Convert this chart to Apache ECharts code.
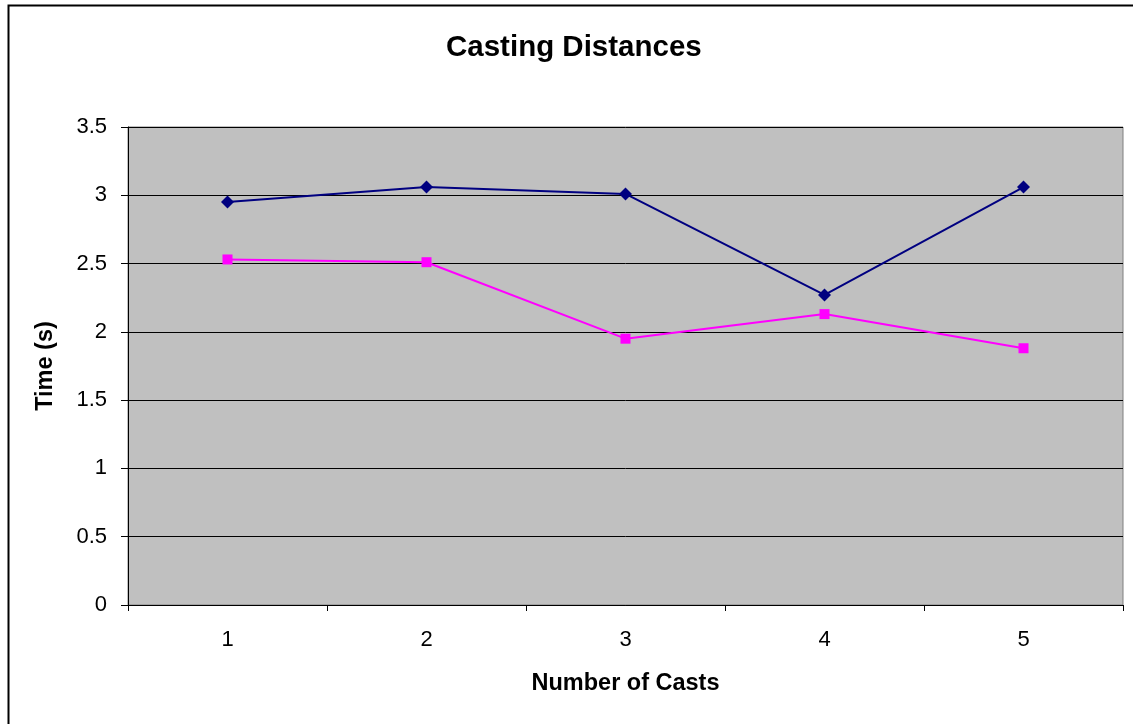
<!DOCTYPE html>
<html>
<head>
<meta charset="utf-8">
<script src="https://cdn.jsdelivr.net/npm/echarts@6/dist/echarts.min.js"></script>
<style>html,body{margin:0;padding:0;background:#fff}#c{width:1133px;height:724px}</style>
</head>
<body>
<div id="c"></div>
<script>
var categories = ['1', '2', '3', '4', '5'];
var seriesA = [2.95, 3.06, 3.01, 2.27, 3.06];
var seriesB = [2.53, 2.51, 1.95, 2.13, 1.88];
var yTicks = [0, 0.5, 1, 1.5, 2, 2.5, 3, 3.5];

var chart = echarts.init(document.getElementById('c'));
var font = 'Arial, "Liberation Sans", sans-serif';
chart.setOption({
  animation: false,
  backgroundColor: '#fff',
  graphic: [{
    type: 'rect', left: 6, top: 3, z: -1,
    shape: { width: 1140, height: 730 },
    style: { fill: 'none', stroke: '#000', lineWidth: 2 }
  }],
  title: {
    text: 'Casting Distances', left: 446, top: 33,
    textStyle: { fontFamily: font, fontSize: 29.5, fontWeight: 'bold', color: '#000' },
    padding: 0
  },
  grid: { left: 128, right: 10, top: 127, bottom: 119, show: true, backgroundColor: '#C0C0C0', borderColor: '#808080', borderWidth: 1 },
  xAxis: {
    type: 'category', data: categories, boundaryGap: true,
    name: 'Number of Casts', nameLocation: 'middle', nameGap: 67,
    nameTextStyle: { fontFamily: font, fontSize: 23.5, fontWeight: 'bold', color: '#000' },
    axisLine: { lineStyle: { color: '#000', width: 1 } },
    axisTick: { show: true, length: 6, lineStyle: { color: '#000' } },
    axisLabel: { fontFamily: font, fontSize: 22, color: '#000', margin: 24 },
    splitLine: { show: false }
  },
  yAxis: {
    type: 'value', min: 0, max: 3.5, interval: 0.5,
    name: 'Time (s)', nameLocation: 'middle', nameGap: 70, nameRotate: 90,
    nameTextStyle: { fontFamily: font, fontSize: 23.5, fontWeight: 'bold', color: '#000' },
    axisLine: { show: true, lineStyle: { color: '#000', width: 1 } },
    axisTick: { show: true, length: 7, inside: false, lineStyle: { color: '#000' } },
    axisLabel: { fontFamily: font, fontSize: 22, color: '#000', margin: 21,
      formatter: function (v) { return yTicks.indexOf(v) >= 0 ? String(v) : ''; } },
    splitLine: { show: true, lineStyle: { color: '#000', width: 1 } }
  },
  series: [{
    type: 'line', data: seriesA, symbol: 'diamond', symbolSize: 13,
    lineStyle: { color: '#000080', width: 2 },
    itemStyle: { color: '#000080' }
  }, {
    type: 'line', data: seriesB, symbol: 'rect', symbolSize: 10,
    lineStyle: { color: '#FF00FF', width: 2 },
    itemStyle: { color: '#FF00FF' }
  }]
});
</script>
</body>
</html>
